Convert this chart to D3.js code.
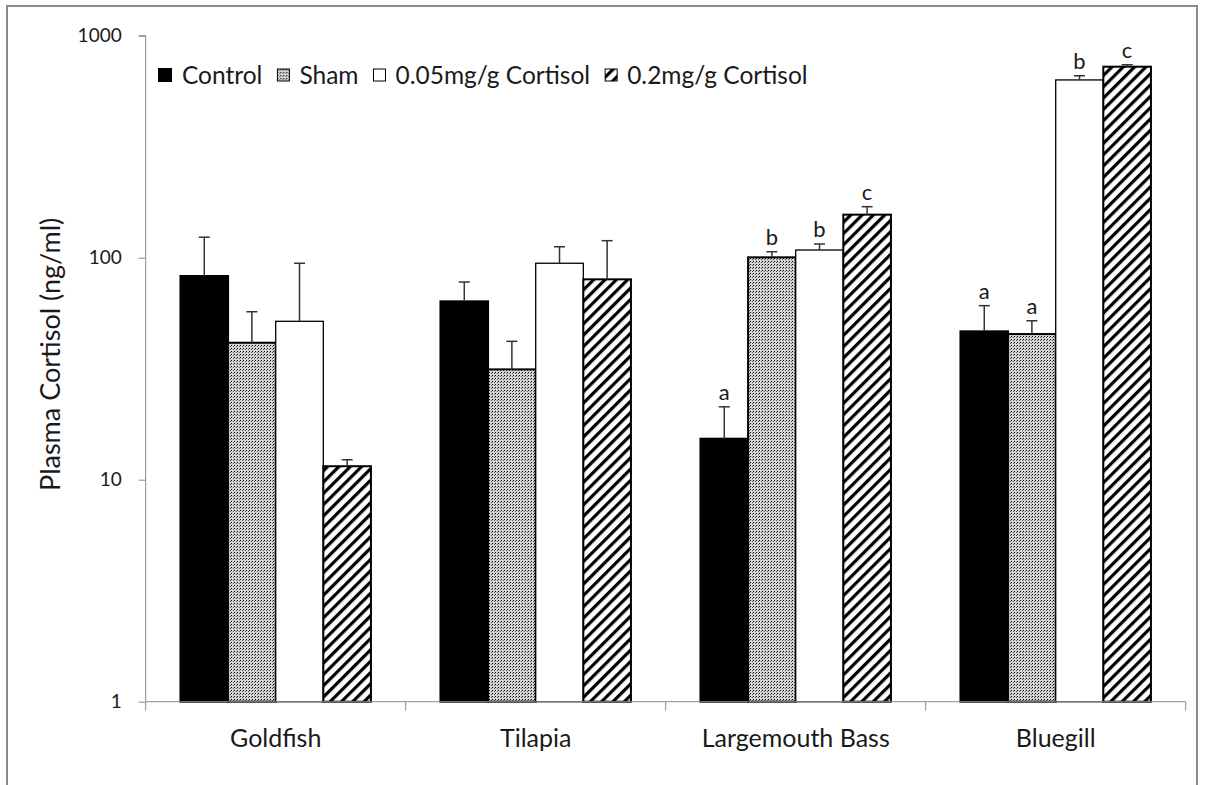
<!DOCTYPE html>
<html>
<head>
<meta charset="utf-8">
<script src="https://cdn.jsdelivr.net/npm/d3@7"></script>
<style>
  body { margin: 0; background: #fff; }
  text { font-family: Lato, "Open Sans", sans-serif; fill: #1a1a1a; }
</style>
</head>
<body>
<div id="chart"></div>
<script>
// data
var categories = ["Goldfish", "Tilapia", "Largemouth Bass", "Bluegill"];
var series = ["Control", "Sham", "0.05mg/g Cortisol", "0.2mg/g Cortisol"];

var control = [82.7, 63.6, 15.3, 46.6];
var sham = [41.4, 31.4, 100.4, 45.3];
var lowDose = [51.7, 94.4, 108.3, 632];
var highDose = [11.5, 79.9, 156.3, 725];

// standard errors (upper bar only)
var controlSE = [41, 14.1, 6, 14.2];
var shamSE = [15.7, 10.6, 6, 6.7];
var lowDoseSE = [42.7, 17.6, 7, 28];
var highDoseSE = [0.8, 39.4, 13.4, 15];

// significance letters
var controlSig = ["", "", "a", "a"];
var shamSig = ["", "", "b", "a"];
var lowDoseSig = ["", "", "b", "b"];
var highDoseSig = ["", "", "c", "c"];

var yTicks = [1, 10, 100, 1000];

var svgWidth = 1205;
var svgHeight = 785;

var svg = d3.select("#chart")
  .append("svg")
  .attr("width", svgWidth)
  .attr("height", svgHeight);

// patterns
var defs = svg.append("defs");

var dots = defs.append("pattern")
  .attr("id", "dots")
  .attr("patternUnits", "userSpaceOnUse")
  .attr("width", 3)
  .attr("height", 3);
dots.append("rect").attr("width", 3).attr("height", 3).attr("fill", "#d4d4d4");
dots.append("rect").attr("width", 1).attr("height", 1).attr("fill", "#000");
dots.append("rect").attr("x", 2).attr("y", 1).attr("width", 1).attr("height", 1).attr("fill", "#555");

var hatch = defs.append("pattern")
  .attr("id", "hatch")
  .attr("patternUnits", "userSpaceOnUse")
  .attr("width", 8)
  .attr("height", 8)
  .attr("patternTransform", "rotate(45)");
hatch.append("rect").attr("width", 8).attr("height", 8).attr("fill", "#fff");
hatch.append("rect").attr("width", 3.2).attr("height", 8).attr("fill", "#000");

var fills = ["#000", "url(#dots)", "#fff", "url(#hatch)"];

// outer frame
svg.append("rect")
  .attr("x", 7)
  .attr("y", 6)
  .attr("width", 1190)
  .attr("height", 800)
  .attr("fill", "none")
  .attr("stroke", "#8a8a8a")
  .attr("stroke-width", 2);

var plotLeft = 145.7, plotRight = 1185.7, plotTop = 35.7, plotBottom = 701.7;

var x0 = d3.scaleBand()
  .domain(categories)
  .range([plotLeft, plotRight])
  .padding(0);

var x1 = d3.scaleBand()
  .domain(series)
  .range([0, x0.bandwidth()])
  .paddingInner(0)
  .paddingOuter(0.73);

var y = d3.scaleLog()
  .domain([1, 1000])
  .range([plotBottom, plotTop]);

// build rows
var values = [control, sham, lowDose, highDose];
var errs = [controlSE, shamSE, lowDoseSE, highDoseSE];
var sigs = [controlSig, shamSig, lowDoseSig, highDoseSig];

var rows = [];
categories.forEach(function(c, i) {
  series.forEach(function(s, j) {
    rows.push({
      cat: c,
      ser: s,
      idx: j,
      value: values[j][i],
      se: errs[j][i],
      sig: sigs[j][i]
    });
  });
});

// y axis
var leftAxis = d3.axisLeft(y)
  .tickValues(yTicks)
  .tickFormat(d3.format("d"))
  .tickSize(7)
  .tickPadding(17);

var yAxis = svg.append("g")
  .attr("transform", `translate(${plotLeft}, 0)`)
  .call(leftAxis);
yAxis.select(".domain").attr("stroke", "#8a8a8a").attr("d", `M-7,${plotTop}H0V${plotBottom}`);
yAxis.selectAll(".tick line").attr("stroke", "#8a8a8a");
yAxis.selectAll("text").attr("font-size", 19).style("font-family", "Lato, sans-serif").attr("fill", "#1a1a1a");

// bars
var bars = svg.append("g");
bars.selectAll("rect")
  .data(rows)
  .enter()
  .append("rect")
  .attr("x", d => x0(d.cat) + x1(d.ser))
  .attr("y", d => y(d.value))
  .attr("width", x1.bandwidth())
  .attr("height", d => y(1) - y(d.value))
  .attr("fill", d => fills[d.idx])
  .attr("stroke", "#000")
  .attr("stroke-width", d => d.idx === 2 ? 1.3 : 2);

// x axis
var bottomAxis = d3.axisBottom(x0).tickSize(0).tickPadding(28);
var xAxis = svg.append("g")
  .attr("transform", `translate(0, ${plotBottom})`)
  .call(bottomAxis);
xAxis.select(".domain").attr("stroke", "#8a8a8a").attr("d", `M${plotLeft},0H${plotRight}`);
xAxis.selectAll("text").attr("font-size", 25).style("font-family", "Lato, sans-serif").attr("fill", "#1a1a1a");

svg.append("g")
  .selectAll("line")
  .data(categories.concat(["end"]))
  .enter()
  .append("line")
  .attr("x1", (d, i) => i < categories.length ? x0(d) : plotRight)
  .attr("x2", (d, i) => i < categories.length ? x0(d) : plotRight)
  .attr("y1", plotBottom)
  .attr("y2", plotBottom + 9)
  .attr("stroke", "#8a8a8a");

// error bars
var errG = svg.append("g").attr("stroke", "#333").attr("stroke-width", 1.5);
var cx = d => x0(d.cat) + x1(d.ser) + x1.bandwidth() / 2;

errG.selectAll(".stem")
  .data(rows)
  .enter()
  .append("line")
  .attr("x1", cx)
  .attr("x2", cx)
  .attr("y1", d => y(d.value))
  .attr("y2", d => y(d.value + d.se));

errG.selectAll(".cap")
  .data(rows)
  .enter()
  .append("line")
  .attr("x1", d => cx(d) - 5.5)
  .attr("x2", d => cx(d) + 5.5)
  .attr("y1", d => y(d.value + d.se))
  .attr("y2", d => y(d.value + d.se));

// letters
svg.append("g")
  .selectAll("text")
  .data(rows.filter(d => d.sig !== ""))
  .enter()
  .append("text")
  .attr("x", cx)
  .attr("y", d => y(d.value + d.se) - 7)
  .attr("text-anchor", "middle")
  .attr("font-size", 22)
  .text(d => d.sig);

// y axis title
svg.append("text")
  .attr("transform", "translate(60, 491) rotate(-90)")
  .attr("text-anchor", "start")
  .attr("font-size", 27)
  .text("Plasma Cortisol (ng/ml)");

// legend
var legend = svg.append("g").attr("transform", "translate(158, 75)");
var lx = 0;
series.forEach(function(s, j) {
  var item = legend.append("g").attr("transform", `translate(${lx}, 0)`);
  var sz = j === 0 ? 14 : 12;
  item.append("rect")
    .attr("x", 0)
    .attr("y", -sz / 2)
    .attr("width", sz)
    .attr("height", sz)
    .attr("fill", fills[j])
    .attr("stroke", "#000")
    .attr("stroke-width", j === 0 ? 0 : 1);
  var t = item.append("text")
    .attr("x", sz + 10)
    .attr("dy", "0.35em")
    .attr("font-size", 24.5)
    .text(s);
  lx += sz + 10 + t.node().getComputedTextLength() + 15;
});
</script>
</body>
</html>
